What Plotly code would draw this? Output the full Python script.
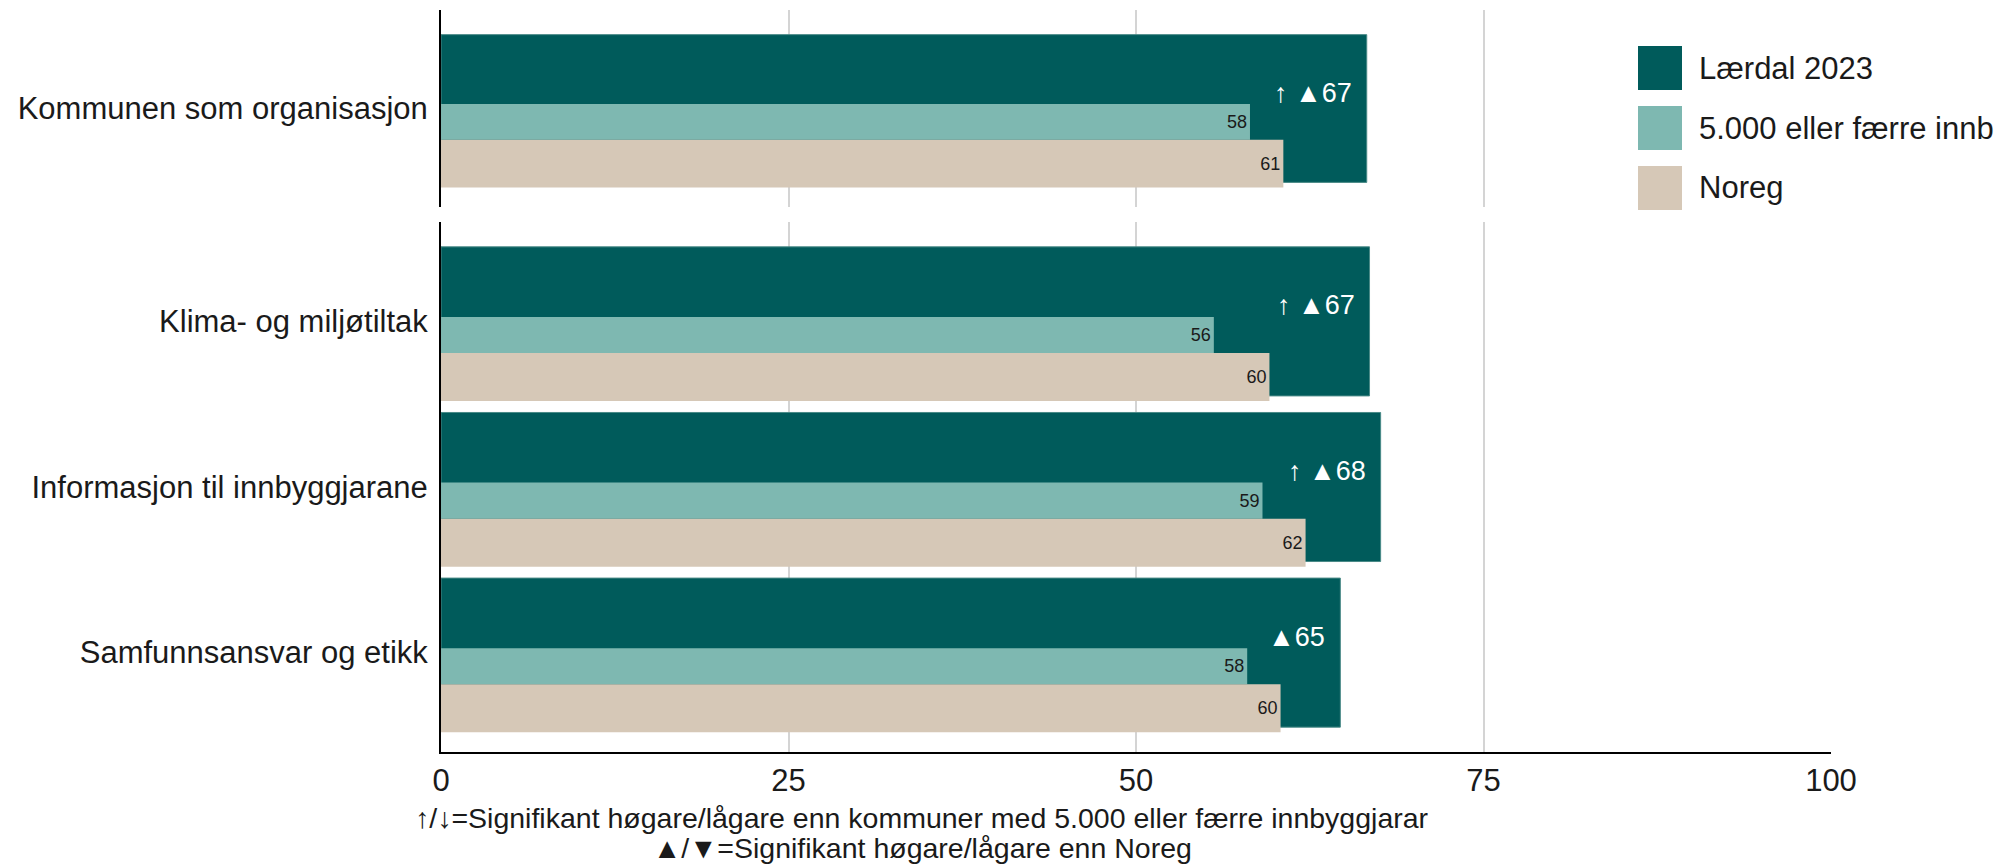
import plotly.graph_objects as go

# ---- data ----
top_cats = ["Kommunen som organisasjon"]
bottom_cats = ["Klima- og miljøtiltak", "Informasjon til innbyggjarane", "Samfunnsansvar og etikk"]
laerdal = [66.6, 66.8, 67.6, 64.7]
small_munis = [58.2, 55.6, 59.1, 58.0]
noreg = [60.6, 59.6, 62.2, 60.4]
sig_small = ["↑", "↑", "↑", ""]     # vs kommuner med 5.000 eller færre
sig_noreg = ["▲", "▲", "▲", "▲"]    # vs Noreg
series_names = ["Lærdal 2023", "5.000 eller færre innb.", "Noreg"]
x_ticks = [0, 25, 50, 75, 100]
footnotes = [
    "↑/↓=Signifikant høgare/lågare enn kommuner med 5.000 eller færre innbyggjarar",
    "▲/▼=Signifikant høgare/lågare enn Noreg",
]

# ---- styling ----
colors = {
    'dark': '#005b5b',
    'teal': '#7eb8b1',
    'beige': '#d6c8b7',
    'grid': '#d4d4d4',
    'text': '#1a1a1a',
}
FONT = "Liberation Sans, Arial, sans-serif"
OFF = 8  # page body margin
W, H = 2003 - OFF, 865 - OFF
# plot area in page pixels
PX0, PX1, PY0, PY1 = 441, 1831, 10, 752
L, T = PX0 - OFF, PY0 - OFF
R, B = W - (PX1 - OFF), H - (PY1 - OFF)
plot_w = PX1 - PX0
plot_h = PY1 - PY0


def paper_x(px):
    return (px - PX0) / plot_w


def paper_y(py):
    return (PY1 - py) / plot_h


fig = go.Figure()

# panel: (categories, data slice, x axis, y axis)
panels = [
    (top_cats, slice(0, 1), 'x', 'y'),
    (bottom_cats, slice(1, 4), 'x2', 'y2'),
]

# bar geometry in category units: (width, offset)
geom = {'dark': (0.9, -0.45), 'teal': (0.218, -0.027), 'beige': (0.29, 0.191)}

for cats, sl, xa, ya in panels:
    pos = list(range(1, len(cats) + 1))
    fig.add_trace(go.Bar(
        x=laerdal[sl], y=pos, orientation='h', xaxis=xa, yaxis=ya,
        width=geom['dark'][0], offset=geom['dark'][1],
        marker_color=colors['dark'], marker_line=dict(color='#4a8a87', width=1),
        showlegend=False, hoverinfo='x'))
    for key, vals in (('teal', small_munis), ('beige', noreg)):
        fig.add_trace(go.Bar(
            x=vals[sl], y=pos, orientation='h', xaxis=xa, yaxis=ya,
            width=geom[key][0], offset=geom[key][1],
            marker_color=colors[key], marker_line_width=0,
            texttemplate="%{x:.0f}", textposition='inside', insidetextanchor='end',
            textangle=0, constraintext='none',
            insidetextfont=dict(size=18, color=colors['text'], family=FONT),
            showlegend=False, hoverinfo='x'))

    # value labels on the Lærdal bars
    for j, i in enumerate(range(len(laerdal))[sl]):
        marks = " ".join(s for s in (sig_small[i], sig_noreg[i]) if s)
        label = f"{marks}{laerdal[i]:.0f}"
        fig.add_annotation(
            x=laerdal[i], y=pos[j], xref=xa, yref=ya, text=label,
            showarrow=False, xanchor='right', yanchor='middle', xshift=-13, yshift=16,
            font=dict(size=27, color='white', family=FONT))

# ---- manual legend (large square keys) ----
for k, (name, key) in enumerate(zip(series_names, ['dark', 'teal', 'beige'])):
    yc = 68 + 60 * k
    fig.add_shape(type='rect', xref='paper', yref='paper',
                  x0=paper_x(1638), x1=paper_x(1682), y0=paper_y(yc + 22), y1=paper_y(yc - 22),
                  fillcolor=colors[key], line=dict(color=colors[key], width=0))
    fig.add_annotation(x=paper_x(1697), y=paper_y(yc), xref='paper', yref='paper',
                       text=name, showarrow=False, xanchor='left', yanchor='middle',
                       font=dict(size=31, color=colors['text'], family=FONT))

# ---- footnotes ----
for k, note in enumerate(footnotes):
    fig.add_annotation(x=paper_x(922), y=paper_y(818 + 30 * k), xref='paper', yref='paper',
                       text=note, showarrow=False, xanchor='center', yanchor='middle',
                       font=dict(size=28.5, color=colors['text'], family=FONT))

axis_x = dict(range=[0, 100], tickvals=x_ticks, showgrid=True, gridcolor=colors['grid'],
              gridwidth=2, zeroline=False, fixedrange=True)
axis_y = dict(showgrid=False, zeroline=False, showline=True, linecolor='black', linewidth=2,
              ticks='outside', ticklen=5, tickcolor='rgba(0,0,0,0)',
              tickfont=dict(size=31, color=colors['text'], family=FONT))

fig.update_layout(
    width=W, height=H,
    margin=dict(l=L, r=R, t=T, b=B, pad=0),
    barmode='overlay',
    paper_bgcolor='white', plot_bgcolor='white',
    font=dict(family=FONT, color=colors['text']),
    showlegend=False,
    xaxis=dict(axis_x, anchor='y', domain=[0, 1], showticklabels=False, showline=False),
    xaxis2=dict(axis_x, anchor='y2', domain=[0, 1], matches='x', showticklabels=True,
                showline=True, linecolor='black', linewidth=2, ticks='',
                tickfont=dict(size=31, color=colors['text'], family=FONT)),
    yaxis=dict(axis_y, anchor='x', domain=[paper_y(207), 1], range=[1.6, 0.4],
               tickvals=[1], ticktext=top_cats),
    yaxis2=dict(axis_y, anchor='x2', domain=[0, paper_y(222)], range=[3.6, 0.4],
                tickvals=[1, 2, 3], ticktext=bottom_cats),
)

fig.write_html("out.html")
